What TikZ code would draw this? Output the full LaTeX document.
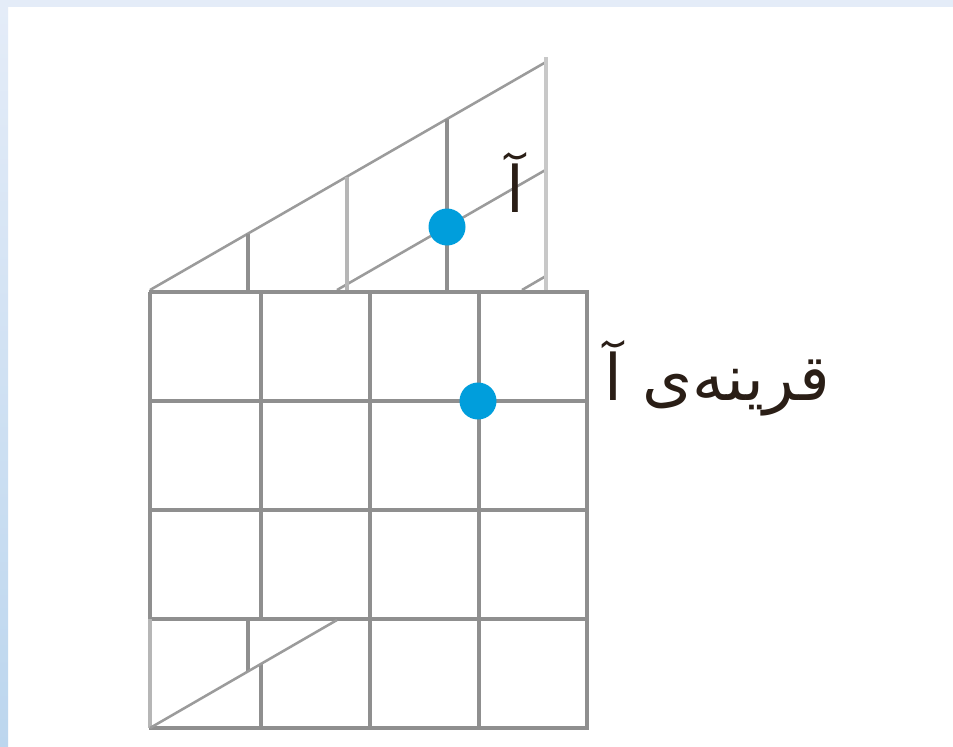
\documentclass[tikz,border=0pt]{standalone}
\usepackage{fontspec}
\TeXXeTstate=1
\newfontfamily\arabicfont[Script=Arabic]{DejaVu Sans}
\definecolor{gridgray}{RGB}{143,143,143}
\definecolor{lightgray1}{RGB}{182,182,182}
\definecolor{lightgray2}{RGB}{200,200,200}
\definecolor{slantgray}{RGB}{155,155,155}
\definecolor{dotblue}{RGB}{0,158,220}
\definecolor{txt}{RGB}{42,30,22}
\definecolor{bgtop}{RGB}{228,236,248}
\definecolor{bgbot}{RGB}{188,214,238}
\tikzset{
  gridline/.style={draw=gridgray,line width=2.6pt},
  lightline/.style={draw=lightgray1,line width=2.8pt},
  edgeline/.style={draw=lightgray2,line width=3.4pt},
  slantline/.style={draw=slantgray,line width=1.9pt},
  dot/.style={fill=dotblue},
  lbl/.style={text=txt,inner sep=0pt,font=\arabicfont\fontsize{48}{54}\selectfont}
}
\begin{document}
\begin{tikzpicture}[x=0.75pt,y=-0.75pt]
\useasboundingbox (0,0) rectangle (953,746);
\fill[white] (0,0) rectangle (953,746);
\fill[bgtop] (0,0) rectangle (953,7);
\shade[top color=bgtop,bottom color=bgbot] (0,7) rectangle (8,746);
% upper slanted grid
\draw[slantline] (150,290) -- (546,62);
\draw[slantline] (337,290) -- (546,169.7);
\draw[slantline] (522,290) -- (546,276);
\draw[gridline] (248,233.6) -- (248,292);
\draw[lightline] (347,176.6) -- (347,292);
\draw[gridline] (447,119) -- (447,292);
\draw[edgeline] (546,57) -- (546,292);
% square grid
\foreach \y in {292,401,510,619,728} \draw[gridline] (148.5,\y) -- (588.5,\y);
\foreach \x in {370,479,587} \draw[gridline] (\x,292) -- (\x,728);
\draw[gridline] (261,292) -- (261,619);
\draw[gridline] (261,664.3) -- (261,728);
\draw[gridline] (150,292) -- (150,619);
\draw[lightline] (150,619) -- (150,728);
% lower slanted part
\draw[gridline] (248,619) -- (248,671.6);
\draw[slantline] (150,728) -- (337,620);
% dots
\fill[dot] (447,227) circle (18.5);
\fill[dot] (478,401) circle (18.5);
% labels
\node[lbl,anchor=base] (a) at (515,212) {\beginR آ\endR};
\node[lbl,anchor=base east] (ap) at (830,400) {\beginR قرینه‌ی آ\endR};
\end{tikzpicture}
\end{document}
